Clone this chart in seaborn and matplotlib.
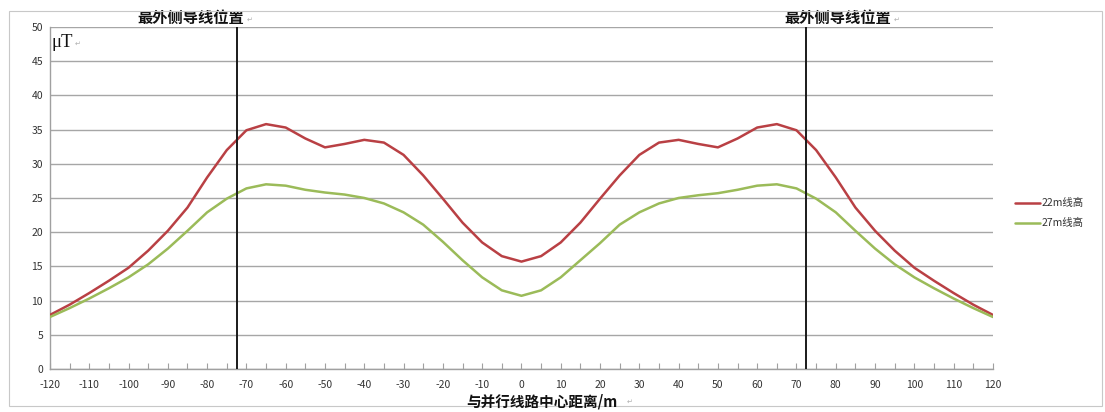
import numpy as np
import pandas as pd
import seaborn as sns
import matplotlib
matplotlib.use("Agg")
import matplotlib.pyplot as plt
from matplotlib.patches import Rectangle

# Distance from the line centre (m)
distance = list(range(-120, 125, 5))

# Magnetic flux density (uT), conductor height 22 m
b_22m = [7.9, 9.4, 11.1, 12.9, 14.8, 17.3, 20.2, 23.6, 28.0, 32.0, 34.9, 35.8,
         35.3, 33.7, 32.4, 32.9, 33.5, 33.1, 31.3, 28.3, 24.9, 21.4, 18.5, 16.5,
         15.7,
         16.5, 18.5, 21.4, 24.9, 28.3, 31.3, 33.1, 33.5, 32.9, 32.4, 33.7, 35.3,
         35.8, 34.9, 32.0, 28.0, 23.6, 20.2, 17.3, 14.8, 12.9, 11.1, 9.4, 7.9]

# Magnetic flux density (uT), conductor height 27 m
b_27m = [7.6, 8.9, 10.3, 11.8, 13.4, 15.3, 17.6, 20.2, 22.9, 24.9, 26.4, 27.0,
         26.8, 26.2, 25.8, 25.5, 25.0, 24.2, 22.9, 21.1, 18.6, 15.9, 13.4, 11.5,
         10.7,
         11.5, 13.4, 15.9, 18.4, 21.1, 22.9, 24.2, 25.0, 25.4, 25.7, 26.2, 26.8,
         27.0, 26.4, 24.9, 22.9, 20.2, 17.6, 15.3, 13.4, 11.8, 10.3, 8.9, 7.6]

series_names = ["22m线高", "27m线高"]
conductor_x = [-72.5, 72.5]
conductor_label = "最外侧导线位置"
x_ticks = list(range(-120, 130, 10))
y_ticks = list(range(0, 55, 5))

df = pd.DataFrame({
    "distance": distance * 2,
    "value": b_22m + b_27m,
    "series": [series_names[0]] * len(distance) + [series_names[1]] * len(distance),
})

sns.set_theme(style="white")
plt.rcParams["font.family"] = ["Noto Sans CJK SC", "DejaVu Sans"]
plt.rcParams["axes.unicode_minus"] = False

fig = plt.figure(figsize=(11.05, 4.12), dpi=100)
fig.patch.set_facecolor("white")
ax = fig.add_axes([0.0452, 0.1044, 0.8534, 0.8301])

# outer chart frame
fig.patches.append(Rectangle((0.008, 0.015), 0.989, 0.958, transform=fig.transFigure,
                             fill=False, edgecolor="#c8c8c8", linewidth=0.8))

palette = {series_names[0]: "#b94044", series_names[1]: "#9bbb59"}
sns.lineplot(data=df, x="distance", y="value", hue="series", palette=palette,
             linewidth=1.8, ax=ax, legend=False, zorder=3)

ax.set_xlim(-120, 120)
ax.set_ylim(0, 50)
ax.set_xticks(x_ticks)
ax.set_xticks(list(range(-115, 120, 10)), minor=True)
ax.set_yticks(y_ticks)
ax.tick_params(axis="x", which="both", direction="in", length=4, width=0.8,
               color="#a0a0a0", labelsize=7.5, labelcolor="#333333", pad=8,
               bottom=True)
ax.tick_params(axis="y", length=0, labelsize=7.5, labelcolor="#333333", pad=5)
ax.set_xlabel("")
ax.set_ylabel("")
ax.yaxis.grid(True, color="#a6a6a6", linewidth=1.0)
ax.xaxis.grid(False)
for side in ["top", "right"]:
    ax.spines[side].set_visible(False)
for side in ["left", "bottom"]:
    ax.spines[side].set_color("#a0a0a0")
    ax.spines[side].set_linewidth(1.0)

# outermost conductor positions
for cx in conductor_x:
    ax.axvline(cx, color="#1a1a1a", linewidth=1.4, zorder=4)
ax.text(-84.1, 51.3, conductor_label, ha="center", va="center", fontsize=11,
        fontweight="bold", color="#111111", clip_on=False)
ax.text(80.5, 51.3, conductor_label, ha="center", va="center", fontsize=11,
        fontweight="bold", color="#111111", clip_on=False)
for tx in [-70.0, 94.7]:
    ax.text(tx, 51.0, "↵", ha="left", va="center", fontsize=5, color="#b0b0b0",
            family="DejaVu Sans", clip_on=False)

# unit label
ax.text(0.002, 0.955, "μT", transform=ax.transAxes, ha="left", va="center",
        fontsize=13.5, family="Liberation Serif", color="#111111")
ax.text(0.026, 0.95, "↵", transform=ax.transAxes, ha="left", va="center",
        fontsize=5, color="#b0b0b0", family="DejaVu Sans")

# x-axis title
fig.text(0.49, 0.026, "与并行线路中心距离/m", ha="center", va="center",
         fontsize=10.5, fontweight="bold", color="#111111")
fig.text(0.567, 0.024, "↵", ha="left", va="center", fontsize=5, color="#b0b0b0",
         family="DejaVu Sans")

# legend
for i, name in enumerate(series_names):
    yy = 1 - (203 + 20 * i) / 412
    fig.lines.append(plt.Line2D([1015 / 1105, 1040 / 1105], [yy, yy],
                                transform=fig.transFigure, color=palette[name],
                                linewidth=1.8))
    fig.text(1042 / 1105, yy, name, ha="left", va="center", fontsize=7.5,
             color="#333333")

fig.savefig("out.png", dpi=100, facecolor="white")
